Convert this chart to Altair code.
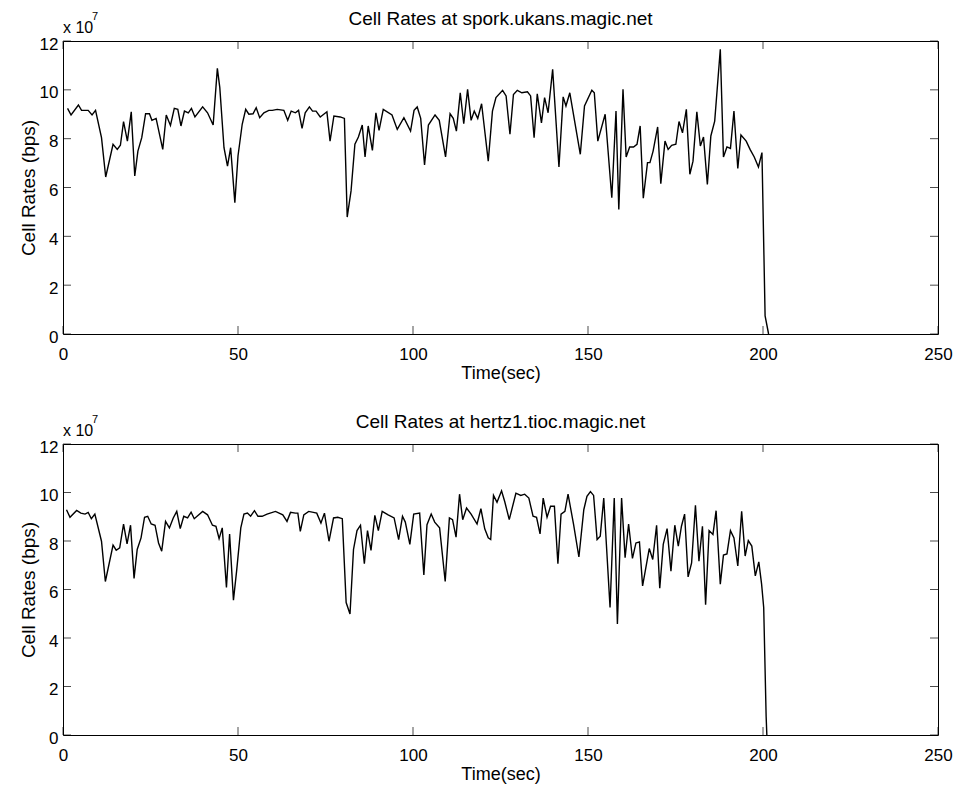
import altair as alt
import pandas as pd

# ---- data (values in units of 1e7 bps) ----
top_t = [1.3, 2.3, 4.4, 5.3, 7.2, 8.3, 9.3, 11.0, 12.2, 14.3,
         15.5, 16.4, 17.3, 18.4, 19.5, 20.5, 21.4, 22.5, 23.6, 24.7,
         25.4, 26.6, 28.5, 29.5, 30.7, 31.8, 32.8, 33.7, 34.7, 35.8,
         36.7, 37.7, 39.9, 41.3, 42.9, 44.1, 44.8, 46.0, 47.0, 47.9,
         49.1, 50.0, 51.2, 52.2, 53.1, 54.3, 55.2, 56.2, 57.4, 58.8,
         59.8, 61.2, 63.1, 64.2, 65.2, 66.4, 67.3, 68.3, 69.2, 70.4,
         71.3, 72.3, 73.5, 75.4, 76.3, 77.4, 79.2, 80.4, 81.2, 82.3,
         83.4, 84.4, 85.5, 86.3, 87.2, 88.4, 89.4, 90.3, 91.5, 94.0,
         95.5, 97.4, 99.3, 100.3, 101.2, 102.2, 103.3, 104.4, 106.3, 107.5,
         109.3, 110.6, 111.5, 112.4, 113.5, 114.5, 115.6, 116.6, 117.5, 118.5,
         119.6, 121.5, 122.7, 123.7, 125.6, 126.6, 127.7, 128.7, 129.8, 131.1,
         132.7, 133.6, 134.6, 135.5, 136.7, 137.6, 138.6, 139.9, 141.7, 142.9,
         143.7, 144.8, 147.8, 149.0, 151.1, 151.8, 152.8, 154.9, 156.8, 158.0,
         158.8, 160.0, 160.9, 161.9, 163.0, 164.0, 164.9, 165.8, 167.0, 167.7,
         168.6, 169.9, 170.8, 172.0, 172.9, 173.9, 175.1, 176.0, 177.0, 178.1,
         179.1, 180.0, 181.1, 182.1, 183.0, 184.1, 185.1, 186.2, 187.8, 188.7,
         189.7, 190.7, 191.7, 192.8, 193.7, 195.2, 196.3, 197.5, 198.7, 199.7,
         200.6, 201.6]
top_v = [9.24, 8.97, 9.38, 9.16, 9.16, 8.97, 9.16, 8.04, 6.43, 7.77,
         7.56, 7.73, 8.70, 7.90, 9.10, 6.47, 7.49, 8.04, 9.02, 9.02,
         8.75, 8.83, 7.56, 8.97, 8.54, 9.24, 9.20, 8.52, 9.13, 9.06,
         9.24, 8.89, 9.30, 9.06, 8.56, 10.88, 10.09, 7.63, 6.88, 7.63,
         5.38, 7.29, 8.59, 9.20, 9.00, 9.02, 9.27, 8.86, 9.06, 9.16,
         9.16, 9.20, 9.16, 8.75, 9.13, 9.06, 9.16, 8.42, 9.06, 9.30,
         9.13, 9.13, 8.89, 9.10, 7.90, 8.93, 8.89, 8.83, 4.79, 5.86,
         7.77, 8.07, 8.56, 7.25, 8.52, 7.52, 9.06, 8.34, 9.20, 8.97,
         8.38, 8.86, 8.31, 9.16, 9.30, 8.83, 6.92, 8.56, 8.97, 8.75,
         7.25, 9.02, 8.83, 8.31, 9.88, 8.61, 10.02, 8.75, 9.13, 8.83,
         9.43, 7.08, 9.13, 9.68, 9.98, 9.75, 8.18, 9.81, 9.98, 9.88,
         9.92, 9.75, 8.04, 9.84, 8.65, 9.68, 9.06, 10.84, 6.84, 9.71,
         9.34, 9.88, 7.36, 9.34, 9.98, 9.88, 7.90, 9.00, 5.58, 9.13,
         5.10, 10.02, 7.25, 7.66, 7.66, 7.77, 8.52, 5.56, 7.02, 7.02,
         7.49, 8.48, 6.16, 7.90, 7.56, 7.73, 7.77, 8.70, 8.24, 9.20,
         6.54, 7.08, 9.10, 7.70, 8.07, 6.13, 8.11, 8.72, 11.66, 7.25,
         7.66, 7.60, 9.13, 6.78, 8.15, 7.90, 7.56, 7.25, 6.84, 7.43,
         0.74, 0.0]

bot_t = [1.0, 2.0, 3.9, 5.1, 6.3, 7.2, 8.1, 9.1, 11.0, 12.1,
         14.3, 15.2, 16.2, 17.3, 18.3, 19.3, 20.3, 21.2, 22.3, 23.3,
         24.2, 25.2, 26.3, 27.3, 28.2, 29.3, 30.4, 31.5, 32.5, 33.5,
         34.5, 35.6, 36.6, 37.5, 39.9, 41.3, 42.7, 43.7, 44.6, 45.5,
         46.7, 47.6, 48.7, 49.6, 50.8, 51.7, 52.7, 53.6, 54.7, 55.7,
         56.9, 58.3, 60.7, 62.8, 64.0, 65.0, 66.4, 67.1, 67.8, 68.8,
         70.2, 72.5, 73.7, 74.7, 76.0, 77.3, 78.5, 79.8, 80.9, 82.0,
         83.0, 84.0, 85.0, 86.1, 87.0, 88.0, 89.1, 90.1, 91.2, 92.9,
         94.6, 95.9, 97.0, 97.8, 99.1, 100.2, 101.9, 103.1, 104.0, 105.2,
         106.2, 107.6, 109.2, 110.4, 111.3, 112.3, 113.3, 114.2, 115.3, 116.6,
         118.3, 119.4, 120.5, 121.5, 122.2, 123.0, 124.0, 125.3, 126.2, 127.5,
         129.4, 130.8, 131.9, 133.1, 134.3, 135.3, 136.3, 137.2, 138.3, 139.3,
         140.4, 141.4, 142.3, 143.4, 144.3, 145.9, 147.4, 148.8, 149.7, 150.7,
         151.6, 152.6, 153.5, 154.5, 155.2, 156.3, 157.5, 158.4, 159.6, 160.6,
         161.6, 162.7, 163.7, 164.7, 165.6, 167.5, 168.5, 169.6, 170.5, 171.5,
         172.6, 173.7, 174.8, 175.8, 176.7, 177.6, 178.6, 179.6, 180.7, 181.7,
         182.7, 183.6, 184.6, 185.7, 186.6, 187.8, 188.7, 189.7, 190.7, 191.7,
         192.8, 193.9, 194.9, 195.8, 196.8, 197.8, 198.8, 199.6, 200.2, 200.9,
         201.1]
bot_v = [9.29, 8.98, 9.26, 9.15, 9.11, 9.18, 8.92, 9.11, 7.99, 6.33,
         7.83, 7.62, 7.72, 8.70, 7.88, 8.65, 6.46, 7.65, 8.13, 8.98,
         9.02, 8.70, 8.65, 7.92, 7.58, 8.81, 8.54, 8.95, 9.22, 8.51,
         9.02, 8.95, 9.19, 8.92, 9.22, 9.08, 8.65, 8.61, 8.10, 8.54,
         6.08, 8.29, 5.56, 6.76, 8.54, 9.11, 9.15, 9.02, 9.25, 9.02,
         9.02, 9.11, 9.22, 9.08, 8.81, 9.18, 9.15, 9.15, 8.40, 9.08,
         9.22, 9.15, 8.74, 9.15, 7.99, 8.95, 8.98, 8.92, 5.46, 4.99,
         7.65, 8.43, 8.65, 7.06, 8.43, 7.61, 9.06, 8.43, 9.22, 9.08,
         8.95, 8.06, 9.02, 8.78, 7.86, 9.11, 9.15, 6.60, 8.67, 9.11,
         8.78, 8.54, 6.33, 8.95, 8.88, 8.16, 9.93, 8.88, 9.36, 9.11,
         8.70, 9.33, 8.50, 8.13, 8.06, 9.88, 9.60, 10.07, 9.63, 8.88,
         9.97, 9.88, 9.93, 9.77, 9.02, 8.98, 8.29, 9.77, 8.98, 9.43,
         9.43, 7.06, 9.11, 9.22, 9.93, 8.67, 7.34, 9.29, 9.84, 10.04,
         9.88, 8.06, 8.20, 9.77, 7.99, 5.26, 9.77, 4.58, 9.77, 7.31,
         8.70, 7.28, 7.92, 7.96, 6.15, 7.69, 7.24, 8.65, 6.05, 7.86,
         8.51, 6.76, 8.65, 7.79, 8.61, 9.11, 6.52, 7.10, 9.47, 7.17,
         8.61, 5.37, 8.43, 8.27, 9.25, 6.22, 7.42, 7.47, 8.43, 8.13,
         6.97, 9.22, 7.38, 8.02, 7.79, 6.56, 7.14, 6.22, 5.26, 0.75,
         0.0]

x_ticks = [0, 50, 100, 150, 200, 250]
y_ticks = [0, 2, 4, 6, 8, 10, 12]
panel_titles = ["Cell Rates at spork.ukans.magic.net",
                "Cell Rates at hertz1.tioc.magic.net"]
x_title = "Time(sec)"
y_title = "Cell Rates (bps)"
exp_base = ["x 10"]
exp_sup = ["7"]

FONT = "Liberation Sans"
W = 875
H_TOP, H_BOT = 293, 291
X_MAX, Y_MAX = 250, 12

xs = alt.Scale(domain=[0, X_MAX], nice=False, zero=False)
ys = alt.Scale(domain=[0, Y_MAX], nice=False, zero=False)
x_axis = alt.Axis(values=x_ticks, ticks=False, tickSize=0, domain=False,
                  grid=False, labelFlush=False, labelPadding=12,
                  titleY=44, titleBaseline="alphabetic")
y_axis = alt.Axis(values=y_ticks, ticks=False, tickSize=0, domain=False,
                  grid=False, labelFlush=False, labelPadding=5,
                  labelOffset=3, titleX=-29, titleBaseline="alphabetic",
                  titleFontSize=19)


def XF(field):
    return alt.X(field, type="quantitative", scale=xs, axis=x_axis, title=x_title)


def YF(field):
    return alt.Y(field, type="quantitative", scale=ys, axis=y_axis, title=y_title)


def XD(val):
    return alt.XDatum(val, type="quantitative", scale=xs, axis=x_axis, title=x_title)


def YD(val):
    return alt.YDatum(val, type="quantitative", scale=ys, axis=y_axis, title=y_title)


def panel(t, v, title, h):
    df = pd.DataFrame({"t": t, "v": v})
    line = alt.Chart(df).mark_line(color="black", strokeWidth=1.4).encode(
        x=XF("t"), y=YF("v"))

    xt = pd.DataFrame({"x": x_ticks})
    yt = pd.DataFrame({"y": y_ticks})
    tick_style = dict(color="black", thickness=1, size=8)

    bottom_ticks = alt.Chart(xt).mark_tick(orient="vertical", yOffset=-4, **tick_style).encode(
        x=XF("x"), y=YD(0))
    top_ticks = alt.Chart(xt).mark_tick(orient="vertical", yOffset=4, **tick_style).encode(
        x=XF("x"), y=YD(Y_MAX))
    left_ticks = alt.Chart(yt).mark_tick(orient="horizontal", xOffset=4, **tick_style).encode(
        y=YF("y"), x=XD(0))
    right_ticks = alt.Chart(yt).mark_tick(orient="horizontal", xOffset=-4, **tick_style).encode(
        y=YF("y"), x=XD(X_MAX))

    base = alt.Chart(pd.DataFrame({"s": exp_base})).mark_text(
        font=FONT, fontSize=16, align="left", baseline="alphabetic", dy=-8, color="black"
    ).encode(x=XD(0), y=YD(Y_MAX), text="s:N")
    sup = alt.Chart(pd.DataFrame({"s": exp_sup})).mark_text(
        font=FONT, fontSize=11, align="left", baseline="alphabetic", dx=29, dy=-21, color="black"
    ).encode(x=XD(0), y=YD(Y_MAX), text="s:N")
    head = alt.Chart(pd.DataFrame({"s": [title]})).mark_text(
        font=FONT, fontSize=19, align="center", baseline="alphabetic", dy=-16, color="black"
    ).encode(x=XD(X_MAX / 2), y=YD(Y_MAX), text="s:N")

    return alt.layer(line, bottom_ticks, top_ticks, left_ticks, right_ticks,
                     base, sup, head).properties(width=W, height=h)


chart = alt.vconcat(
    panel(top_t, top_v, panel_titles[0], H_TOP),
    panel(bot_t, bot_v, panel_titles[1], H_BOT),
    spacing=29,
).properties(
    padding={"left": 10, "top": 1, "right": 0, "bottom": 0},
    background="white",
).configure_view(
    stroke="black", strokeWidth=1
).configure_axis(
    labelFont=FONT, labelFontSize=17, labelColor="black",
    titleFont=FONT, titleFontSize=18, titleFontWeight="normal", titleColor="black",
)

chart.save("out.html", embed_options={"renderer": "svg", "actions": False})
